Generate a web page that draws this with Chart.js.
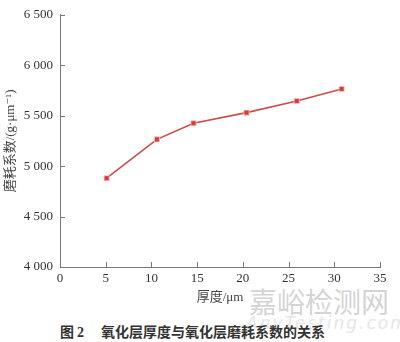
<!DOCTYPE html>
<html>
<head>
<meta charset="utf-8">
<script src="https://cdn.jsdelivr.net/npm/chart.js@4/dist/chart.umd.min.js"></script>
<style>
  body { margin: 0; background: #fff; }
  .wrap { position: relative; width: 400px; height: 342px; overflow: hidden; }
  .box { position: absolute; left: 0; top: 0; width: 400px; height: 310px; }
  .wm { position: absolute; left: 249px; top: 281px; font: 28px "Noto Sans CJK SC", sans-serif; color: #d4d4d4; }
  .wm2 { position: absolute; left: 246px; top: 313px; font: italic 17px "DejaVu Sans", sans-serif; color: #e6e6e6; letter-spacing: 2px; }
  .cap { position: absolute; left: 60px; top: 321px; font: bold 14px "Liberation Serif", "Times New Roman", "DejaVu Serif", "Noto Sans CJK SC", serif; color: #333; white-space: nowrap; }
  .cap .n { margin-left: 3px; margin-right: 17px; }
</style>
</head>
<body>
<div class="wrap">
  <div class="wm">嘉峪检测网</div>
  <div class="wm2">AnyTesting.com</div>
  <div class="box"><canvas id="miGrafico"></canvas></div>
  <div class="cap">图<span class="n">2</span>氧化层厚度与氧化层磨耗系数的关系</div>
</div>
<script>
const espesor = [5.1, 10.6, 14.6, 20.4, 25.9, 30.8];
const desgaste = [4880, 5265, 5425, 5530, 5645, 5765];
const ticksX = [0, 5, 10, 15, 20, 25, 30, 35];
const ticksY = [4000, 4500, 5000, 5500, 6000, 6500];

const fuente = '"Liberation Serif", "Times New Roman", "DejaVu Serif", "Noto Sans CJK SC", serif';
const gris = '#777';

const conMiles = (v) => String(v).replace(/\B(?=(\d{3})+(?!\d))/g, ' ');

// ticks hacia dentro del area
const ticksInternos = {
    id: 'ticksInternos',
    afterDraw(chart) {
        const c = chart.ctx;
        const x = chart.scales.x, y = chart.scales.y;
        c.save();
        c.strokeStyle = gris;
        c.lineWidth = 1;
        c.beginPath();
        ticksX.forEach(t => {
            const px = Math.round(x.getPixelForValue(t)) + 0.5;
            c.moveTo(px, x.top);
            c.lineTo(px, x.top - 5);
        });
        ticksY.forEach(t => {
            const py = Math.round(y.getPixelForValue(t)) + 0.5;
            c.moveTo(y.right, py);
            c.lineTo(y.right + 5, py);
        });
        c.stroke();
        c.restore();
    }
};

new Chart(document.getElementById('miGrafico').getContext('2d'), {
    type: 'line',
    data: {
        datasets: [{
            data: espesor.map((v, i) => ({ x: v, y: desgaste[i] })),
            borderColor: '#d04a4c',
            backgroundColor: '#d93a3a',
            pointBorderColor: '#f3c9c9',
            pointBorderWidth: 0.8,
            borderWidth: 1.6,
            pointStyle: 'rect',
            pointRadius: 3.6,
            tension: 0
        }]
    },
    options: {
        responsive: true,
        maintainAspectRatio: false,
        animation: false,
        layout: { padding: { top: 10, right: 20, left: 0, bottom: 0 } },
        plugins: { legend: { display: false }, tooltip: { enabled: false } },
        scales: {
            x: {
                type: 'linear',
                min: 0, max: 35,
                afterBuildTicks: (s) => { s.ticks = ticksX.map(v => ({ value: v })); },
                afterFit: (s) => { s.height = 43; },
                grid: { display: false, drawTicks: false },
                border: { color: gris, width: 1 },
                ticks: { color: '#333', padding: 4, maxRotation: 0, font: { family: fuente, size: 13 } },
                title: { display: true, text: '厚度/μm', color: '#444', padding: { top: 0, bottom: 5 }, font: { family: fuente, size: 13 } }
            },
            y: {
                min: 4000, max: 6500,
                afterBuildTicks: (s) => { s.ticks = ticksY.map(v => ({ value: v })); },
                afterFit: (s) => { s.width = 60; },
                grid: { display: false, drawTicks: false },
                border: { color: gris, width: 1 },
                ticks: { color: '#333', padding: 7, callback: (v) => conMiles(v), font: { family: fuente, size: 13 } },
                title: { display: true, text: '磨耗系数/(g·μm⁻¹)', color: '#444', padding: { top: 3, bottom: 0 }, font: { family: fuente, size: 13 } }
            }
        }
    },
    plugins: [ticksInternos]
});
</script>
</body>
</html>
